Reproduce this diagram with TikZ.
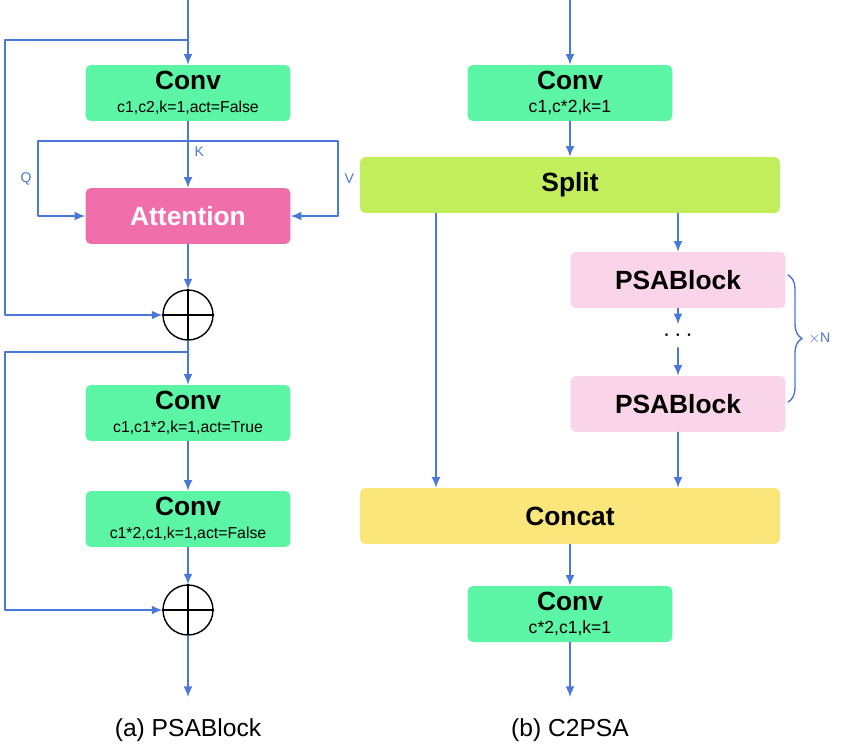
\documentclass[tikz,border=0pt]{standalone}
\usepackage{fontspec}
\setmainfont{Liberation Sans}
\usetikzlibrary{arrows.meta,positioning,decorations.pathreplacing}
\definecolor{convgreen}{HTML}{5CF5A6}
\definecolor{attpink}{HTML}{F06EAA}
\definecolor{splitgreen}{HTML}{C2EE5C}
\definecolor{psapink}{HTML}{FAD4E8}
\definecolor{concatyel}{HTML}{FAE67A}
\definecolor{arrowblue}{HTML}{4A78D8}
\tikzset{
  blk/.style={rounded corners=3pt, inner sep=0pt, align=center, minimum height=1.12cm},
  conv/.style={blk, fill=convgreen, minimum width=4.1cm},
  wide/.style={blk, minimum width=8.4cm},
  flow/.style={-{Latex[length=6pt,width=5pt]}, arrowblue, thick},
  wire/.style={arrowblue, thick},
  ttl/.style={font=\bfseries\fontsize{15}{17}\selectfont},
  sub/.style={font=\fontsize{9}{10}\selectfont},
  qkv/.style={font=\rmfamily\fontsize{8}{9}\selectfont}
}
\begin{document}
\begin{tikzpicture}[x=0.02cm,y=-0.02cm, line cap=round, line join=round]
\useasboundingbox (0,0) rectangle (850,751);
% (a) PSABlock
\coordinate (ain) at (188,0);
\node[conv] (aconv1) at (188,93) {\textcolor{black}{\bfseries\fontsize{15}{17}\selectfont Conv}\\[1pt]{\fontsize{9}{10}\selectfont c1,c2,k=1,act=False}};
\node[blk, fill=attpink, minimum width=4.1cm, ttl, text=white] (att) at (188,216) {Attention};
\node[draw, thick, circle, minimum size=1.0cm, inner sep=0pt] (add1) at (188,315) {};
\draw[thick] (add1.north) -- (add1.south) (add1.west) -- (add1.east);
\node[conv] (aconv2) at (188,413) {{\bfseries\fontsize{15}{17}\selectfont Conv}\\[1pt]{\fontsize{9}{10}\selectfont c1,c1*2,k=1,act=True}};
\node[conv] (aconv3) at (188,519) {{\bfseries\fontsize{15}{17}\selectfont Conv}\\[1pt]{\fontsize{9}{10}\selectfont c1*2,c1,k=1,act=False}};
\node[draw, thick, circle, minimum size=1.0cm, inner sep=0pt] (add2) at (188,610) {};
\draw[thick] (add2.north) -- (add2.south) (add2.west) -- (add2.east);
\coordinate (aout) at (188,697);
\node (capa) at (188,730) {\fontsize{14}{16}\selectfont (a) PSABlock};

\draw[flow] (ain) -- (aconv1);
\draw[flow] (aconv1) -- node[pos=0.45, right, qkv] {K} (att);
\draw[flow] (188,141) -| (38,216) node[pos=0.75, left, qkv] {Q} -- (att.west);
\draw[flow] (188,141) -| (338,216) node[pos=0.75, right, qkv] {V} -- (att.east);
\draw[flow] (att) -- (add1);
\draw[flow] (188,40) -| (5,315) -- (add1.west);
\draw[flow] (add1) -- (aconv2);
\draw[flow] (aconv2) -- (aconv3);
\draw[flow] (aconv3) -- (add2);
\draw[flow] (188,352) -| (5,610) -- (add2.west);
\draw[flow] (add2) -- (aout);

% (b) C2PSA
\coordinate (bin) at (570,0);
\node[conv] (bconv1) at (570,93) {{\bfseries\fontsize{15}{17}\selectfont Conv}\\[1pt]{\fontsize{10}{11}\selectfont c1,c*2,k=1}};
\node[wide, fill=splitgreen, ttl] (split) at (570,185) {Split};
\node[blk, fill=psapink, minimum width=4.3cm, ttl] (psa1) at (678,280) {PSABlock};
\node[ttl] (dots) at (678,336) {$\cdots$};
\node[blk, fill=psapink, minimum width=4.3cm, ttl] (psa2) at (678,404) {PSABlock};
\node[wide, fill=concatyel, ttl] (concat) at (570,516) {Concat};
\node[conv] (bconv2) at (570,614) {{\bfseries\fontsize{15}{17}\selectfont Conv}\\[1pt]{\fontsize{10}{11}\selectfont c*2,c1,k=1}};
\coordinate (bout) at (570,697);
\node (capb) at (570,730) {\fontsize{14}{16}\selectfont (b) C2PSA};

\draw[flow] (bin) -- (bconv1);
\draw[flow] (bconv1) -- (split);
\draw[flow] (split.south -| 678,0) -- (psa1);
\draw[flow] (psa1) -- (dots);
\draw[flow] (dots) -- (psa2);
\draw[flow] (psa2) -- (psa2 |- concat.north);
\draw[flow] (split.south -| 436,0) -- (concat.north -| 436,0);
\draw[flow] (concat) -- (bconv2);
\draw[flow] (bconv2) -- (bout);
\draw[wire, decorate, decoration={brace, amplitude=8pt}] (788,275) -- (788,402)
  node[midway, right=8pt, qkv] {$\times$N};
\end{tikzpicture}
\end{document}
